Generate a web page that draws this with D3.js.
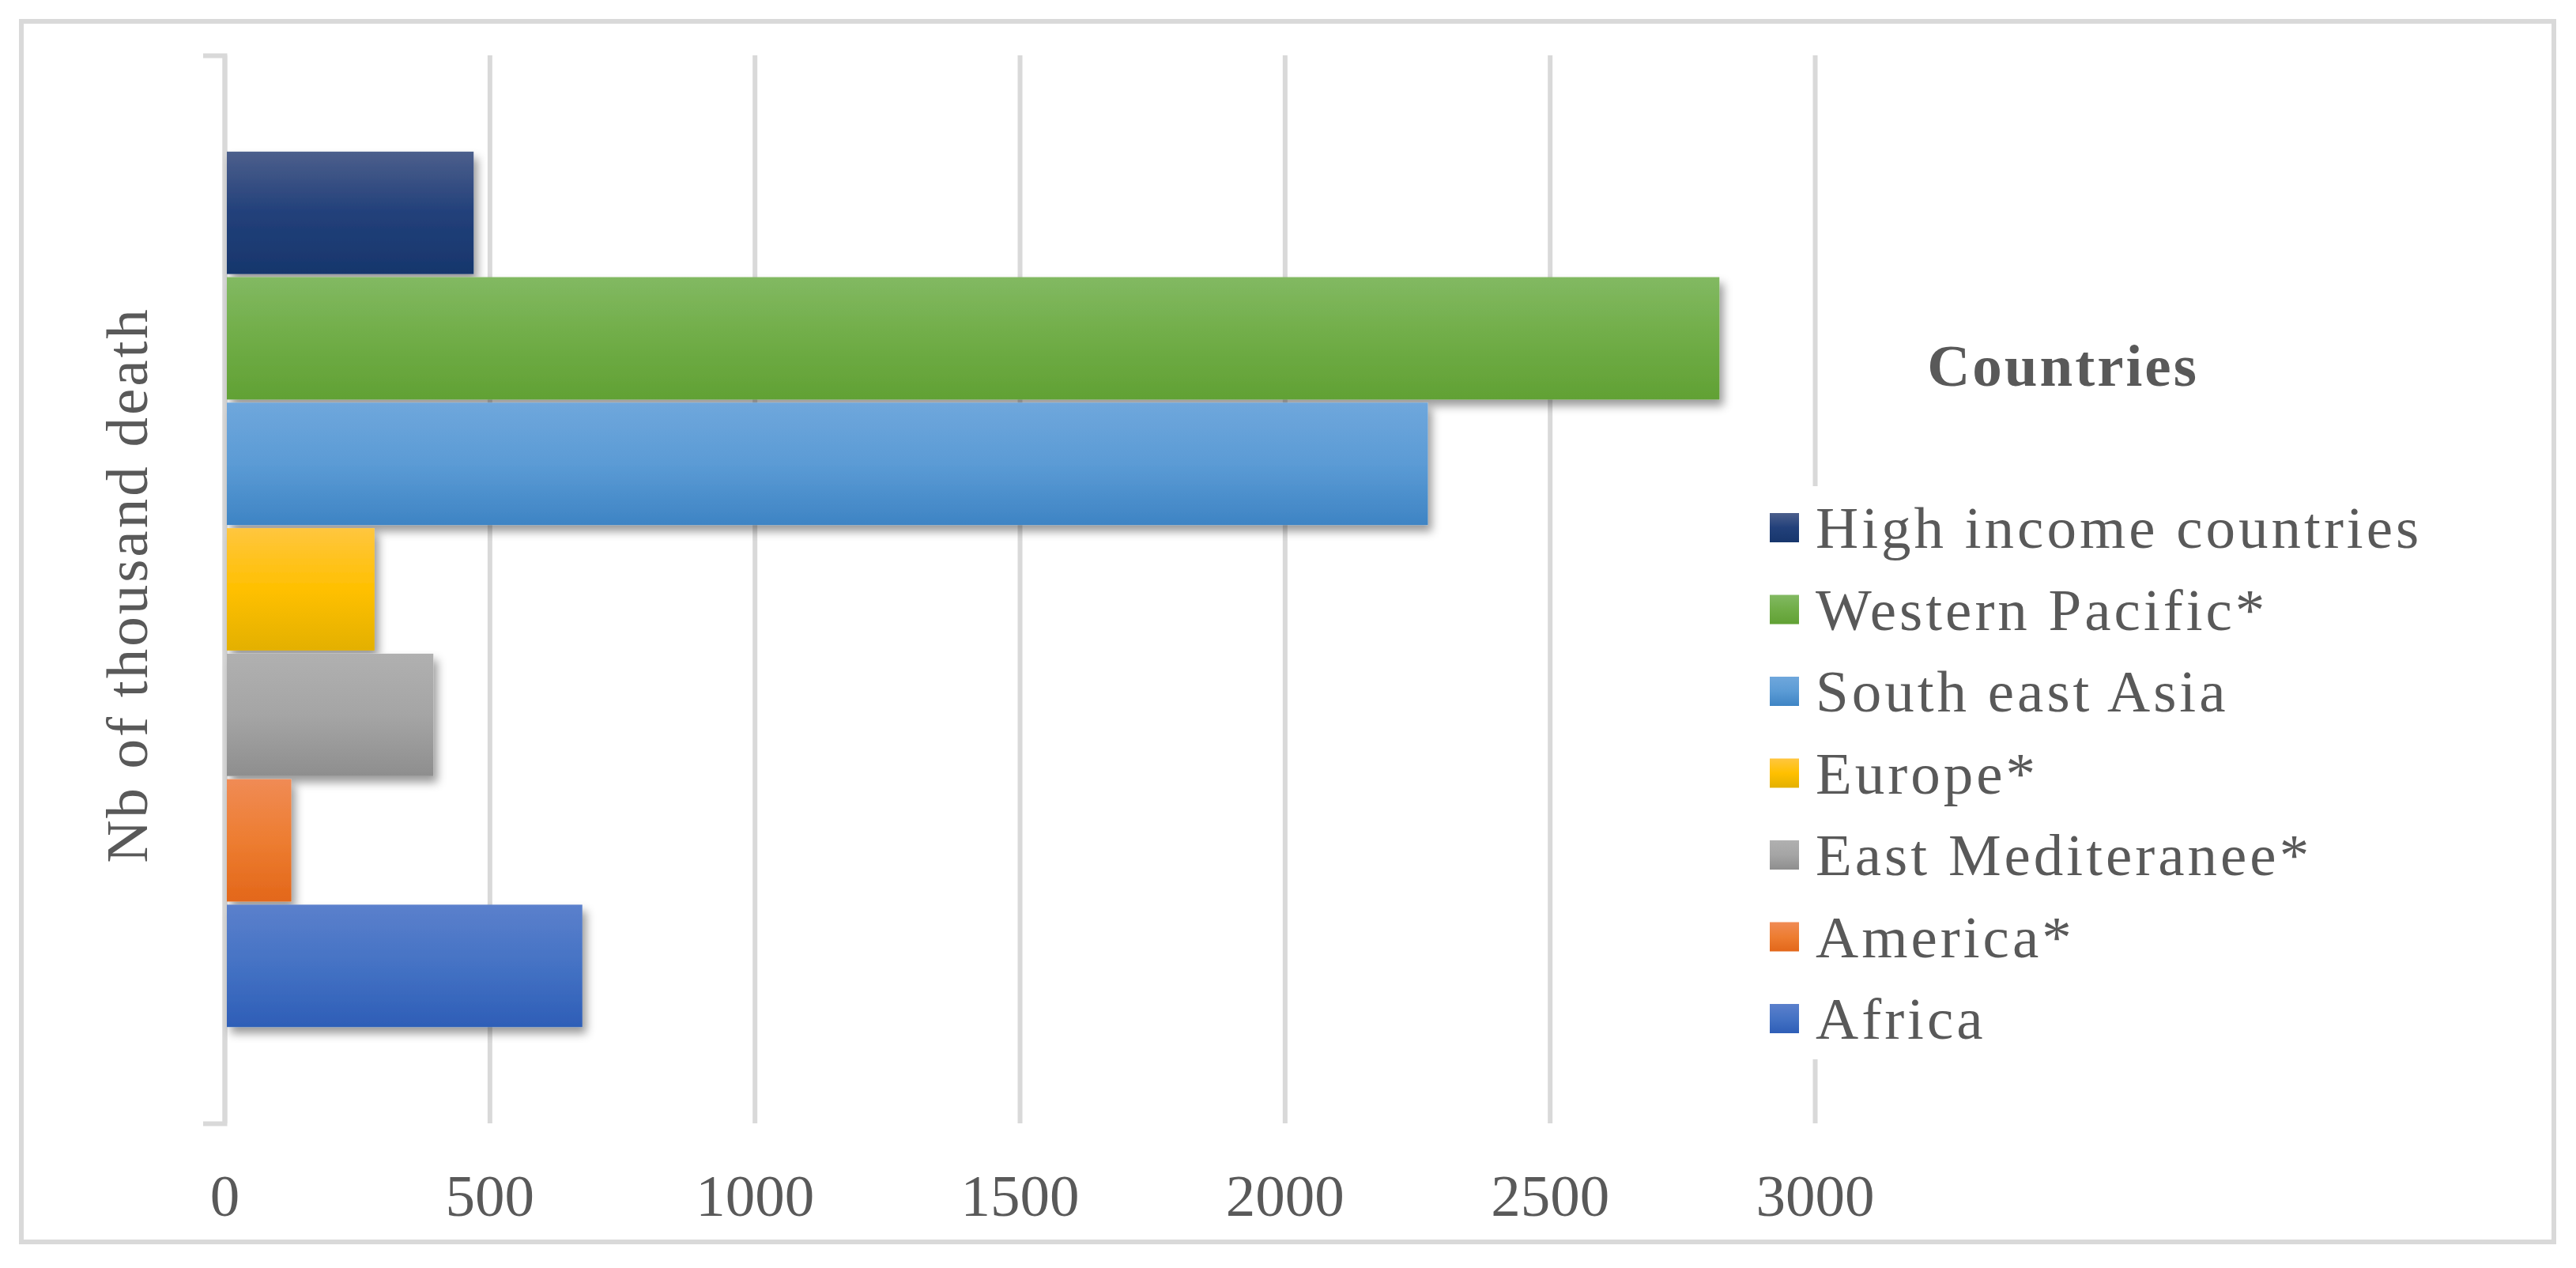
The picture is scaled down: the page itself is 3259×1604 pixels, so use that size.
<!DOCTYPE html>
<html>
<head>
<meta charset="utf-8">
<script src="https://cdn.jsdelivr.net/npm/d3@7"></script>
<style>
  body { margin: 0; background: #fff; }
  text { font-family: "Liberation Serif", serif; fill: #595959; }
</style>
</head>
<body>
<svg id="svg" width="3259" height="1604"></svg>
<script>
// data
var category = ["Nb of thousand death"];
var series = ["High income countries", "Western Pacific*", "South east Asia", "Europe*",
  "East Mediteranee*", "America*", "Africa"];
var deaths = [470, 2820, 2270, 283, 394, 126, 675];
var tickValues = [0, 500, 1000, 1500, 2000, 2500, 3000];

// bar colours: top / middle / bottom of the gradient
var colors = [
  ["#4c5f8c", "#22407a", "#17366c"],
  ["#82b962", "#70ad47", "#61a134"],
  ["#6fa7dc", "#5b9bd5", "#3e84c4"],
  ["#ffc63f", "#ffc000", "#e3b000"],
  ["#b0b0b0", "#a5a5a5", "#8e8e8e"],
  ["#f08b55", "#ed7d31", "#e3671a"],
  ["#5b80cc", "#4472c4", "#2e5eb7"]
];

var svg = d3.select("#svg");
var plot = { left: 284, right: 2296, top: 70, bottom: 1421 };
var lineColor = "#d9d9d9";

var data = series.map(function (s, i) {
  return { name: s, value: deaths[i], idx: i };
});

var defs = svg.append("defs");
data.forEach(function (d) {
  var g = defs.append("linearGradient")
    .attr("id", "grad" + d.idx)
    .attr("x1", 0).attr("y1", 0).attr("x2", 0).attr("y2", 1);
  g.append("stop").attr("offset", "0%").attr("stop-color", colors[d.idx][0]);
  g.append("stop").attr("offset", "50%").attr("stop-color", colors[d.idx][1]);
  g.append("stop").attr("offset", "100%").attr("stop-color", colors[d.idx][2]);
});
var shadow = defs.append("filter").attr("id", "shadow")
  .attr("x", "-10%").attr("y", "-10%").attr("width", "130%").attr("height", "130%");
shadow.append("feDropShadow")
  .attr("dx", 5).attr("dy", 8).attr("stdDeviation", 6)
  .attr("flood-color", "#000").attr("flood-opacity", 0.4);

// outer frame
svg.append("rect")
  .attr("x", 27).attr("y", 27).attr("width", 3204).attr("height", 1544)
  .attr("fill", "#fff").attr("stroke", lineColor).attr("stroke-width", 6);

var xScale = d3.scaleLinear().domain([0, 3000]).range([plot.left, plot.right]);
var y0 = d3.scaleBand().domain(category).range([plot.top, plot.bottom])
  .paddingInner(0).paddingOuter(0.11);
var y1 = d3.scaleBand().domain(series).range([0, y0.bandwidth()])
  .paddingInner(0.025).paddingOuter(0);

//grid
var grid = svg.append("g")
  .attr("transform", "translate(0," + plot.bottom + ")")
  .call(d3.axisBottom(xScale).tickValues(tickValues)
    .tickSize(-(plot.bottom - plot.top)).tickFormat(""));
grid.select(".domain").remove();
grid.selectAll("line").attr("stroke", lineColor).attr("stroke-width", 6);

//x labels
var xAxis = svg.append("g")
  .attr("transform", "translate(0," + plot.bottom + ")")
  .call(d3.axisBottom(xScale).tickValues(tickValues).tickSize(0).tickFormat(d3.format("d")));
xAxis.select(".domain").remove();
xAxis.selectAll("text")
  .attr("y", 117).attr("dy", 0)
  .style("font-family", "Liberation Serif")
  .style("font-size", "75px")
  .attr("fill", "#595959");

//category axis
var yAxis = svg.append("g")
  .attr("transform", "translate(" + plot.left + ",0)")
  .call(d3.axisLeft(y0).tickSizeInner(0).tickSizeOuter(27).tickFormat(""));
yAxis.select(".domain").attr("stroke", lineColor).attr("stroke-width", 6);

//bars
var barGrp = svg.append("g").attr("filter", "url(#shadow)");
barGrp.selectAll("g")
  .data(category)
  .enter()
  .append("g")
  .attr("transform", function (c) { return "translate(0," + y0(c) + ")"; })
  .selectAll("rect")
  .data(data)
  .enter()
  .append("rect")
  .attr("x", xScale(0) + 3)
  .attr("y", function (d) { return y1(d.name); })
  .attr("height", y1.bandwidth())
  .attr("width", function (d) { return xScale(d.value) - xScale(0) - 3; })
  .attr("fill", function (d) { return "url(#grad" + d.idx + ")"; });

//y title
svg.append("text")
  .attr("transform", "translate(186,740) rotate(-90)")
  .attr("text-anchor", "middle")
  .style("font-size", "75px")
  .style("letter-spacing", "3px")
  .text(category[0]);

//legend
var legend = { left: 2239, top: 649, step: 103.5, box: 37 };
svg.append("rect")
  .attr("x", 2225).attr("y", 615).attr("width", 900).attr("height", 725)
  .attr("fill", "#fff");
svg.append("text")
  .attr("x", 2610).attr("y", 488)
  .attr("text-anchor", "middle")
  .style("font-size", "75px")
  .style("font-weight", "bold")
  .style("letter-spacing", "3px")
  .text("Countries");
var items = svg.append("g").selectAll("g")
  .data(data)
  .enter()
  .append("g")
  .attr("transform", function (d, i) {
    return "translate(" + legend.left + "," + (legend.top + i * legend.step) + ")";
  });
items.append("rect")
  .attr("width", legend.box).attr("height", legend.box)
  .attr("fill", function (d) { return "url(#grad" + d.idx + ")"; });
items.append("text")
  .attr("x", 58).attr("y", 44)
  .style("font-size", "75px")
  .style("letter-spacing", "4px")
  .text(function (d) { return d.name; });
</script>
</body>
</html>
